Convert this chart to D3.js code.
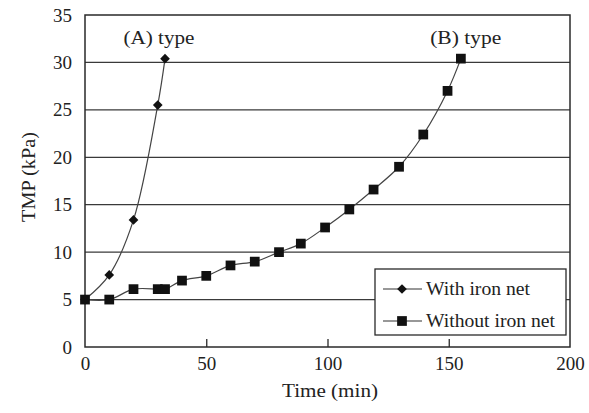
<!DOCTYPE html>
<html><head><meta charset="utf-8">
<script src="https://cdn.jsdelivr.net/npm/d3@7"></script>
<style>body{margin:0;background:#fff}svg{display:block}text{font-family:"Liberation Serif","Times New Roman",serif;fill:#222}</style>
</head><body><svg id="c" width="589" height="413"></svg>
<script>
const withTime = [0, 10, 20, 30, 33];
const withTMP = [5, 7.6, 13.4, 25.5, 30.4];
const withoutTime = [0, 10, 20, 30, 33, 40, 50, 60, 70, 80, 89, 99, 109, 119, 129.5, 139.5, 149.5, 155];
const withoutTMP = [5, 5, 6.1, 6.1, 6.1, 7.0, 7.5, 8.6, 9.0, 10.0, 10.9, 12.6, 14.5, 16.6, 19.0, 22.4, 27.0, 30.4];
const xTicks = [0, 50, 100, 150, 200];
const yTicks = [0, 5, 10, 15, 20, 25, 30, 35];
const seriesNames = ["With iron net", "Without iron net"];
const annotations = [{t: 30.5, v: 31.9, label: "(A) type"}, {t: 157, v: 31.9, label: "(B) type"}];

const svg = d3.select("#c");
const L = 85, R = 570, T = 15, B = 347;
const x = d3.scaleLinear().domain([0, 200]).range([L, R]);
const y = d3.scaleLinear().domain([0, 35]).range([B, T]);
const ink = "#2a2a2a";
const FS = 19;

// gridlines
svg.append("g").selectAll("line").data(yTicks.filter(v => v > 0 && v < 35)).join("line")
  .attr("x1", L).attr("x2", R).attr("y1", d => y(d)).attr("y2", d => y(d))
  .attr("stroke", "#3a3a3a").attr("stroke-width", 1.3);

// frame
svg.append("rect").attr("x", L).attr("y", T).attr("width", R - L).attr("height", B - T)
  .attr("fill", "none").attr("stroke", ink).attr("stroke-width", 1.5);

// x axis
const xa = svg.append("g").attr("transform", `translate(0,${B})`)
  .call(d3.axisBottom(x).tickValues(xTicks).tickSizeInner(-8).tickSizeOuter(0));
xa.select(".domain").remove();
xa.selectAll("line").attr("stroke", ink).attr("stroke-width", 1.3);
xa.selectAll("text").attr("font-size", FS).attr("fill", "#222").attr("y", 23).attr("dy", 0);
xa.selectAll(".tick").filter(d => d === 0 || d === 200).select("line").remove();

// y axis
const ya = svg.append("g").attr("transform", `translate(${L},0)`)
  .call(d3.axisLeft(y).tickValues(yTicks).tickSize(0).tickPadding(13));
ya.select(".domain").remove();
ya.selectAll("text").attr("font-size", FS).attr("fill", "#222");

// axis titles
svg.append("text").attr("x", 330).attr("y", 397).attr("text-anchor", "middle")
  .attr("font-size", FS).attr("textLength", 96).attr("lengthAdjust", "spacingAndGlyphs").text("Time (min)");
svg.append("text").attr("transform", `translate(35,177) rotate(-90)`)
  .attr("text-anchor", "middle").attr("font-size", FS).attr("textLength", 90).attr("lengthAdjust", "spacingAndGlyphs").text("TMP (kPa)");

const line = d3.line().x(d => x(d[0])).y(d => y(d[1])).curve(d3.curveCatmullRom.alpha(0.5));
const dataA = withTime.map((t, i) => [t, withTMP[i]]);
const dataB = withoutTime.map((t, i) => [t, withoutTMP[i]]);

svg.append("path").datum(dataB).attr("d", line).attr("fill", "none").attr("stroke", "#444").attr("stroke-width", 1.2);
svg.append("path").datum(dataA).attr("d", line).attr("fill", "none").attr("stroke", "#444").attr("stroke-width", 1.2);

const sq = d3.symbol().type(d3.symbolSquare).size(95);
const dia = d3.symbol().type(d3.symbolDiamond2).size(60);
svg.append("g").selectAll("path").data(dataB).join("path").attr("d", sq)
  .attr("transform", d => `translate(${x(d[0])},${y(d[1])})`).attr("fill", "#111");
svg.append("g").selectAll("path").data(dataA).join("path").attr("d", dia)
  .attr("transform", d => `translate(${x(d[0])},${y(d[1])})`).attr("fill", "#111");

// annotations
svg.append("g").selectAll("text").data(annotations).join("text")
  .attr("x", d => x(d.t)).attr("y", d => y(d.v)).attr("text-anchor", "middle")
  .attr("font-size", FS).attr("textLength", 71).attr("lengthAdjust", "spacingAndGlyphs").text(d => d.label);

// legend
const lg = svg.append("g").attr("transform", "translate(375,269)");
lg.append("rect").attr("width", 191).attr("height", 66).attr("fill", "#fff").attr("stroke", ink).attr("stroke-width", 1.3);
const legendLens = [104, 129];
seriesNames.forEach((name, i) => {
  const yy = 20 + i * 32;
  lg.append("line").attr("x1", 8).attr("x2", 47).attr("y1", yy).attr("y2", yy).attr("stroke", "#333").attr("stroke-width", 1.2);
  lg.append("path").attr("d", i === 0 ? dia : sq).attr("transform", `translate(27,${yy})`).attr("fill", "#111");
  lg.append("text").attr("x", 51).attr("y", yy + 6).attr("font-size", FS)
    .attr("textLength", legendLens[i]).attr("lengthAdjust", "spacingAndGlyphs").text(name);
});
</script></body></html>
